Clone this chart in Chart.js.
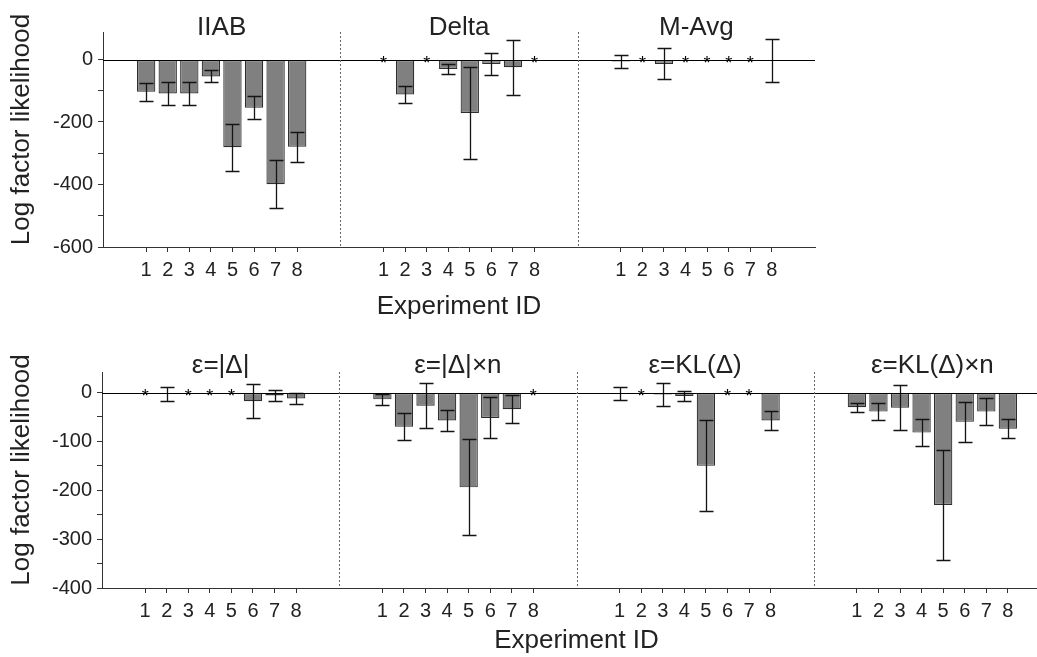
<!DOCTYPE html>
<html>
<head>
<meta charset="utf-8">
<script src="https://cdn.jsdelivr.net/npm/chart.js@4"></script>
<style>
  html, body { margin: 0; padding: 0; background: #fff; overflow: hidden; width: 1037px; height: 657px; }
  #topChart { position: absolute; left: 0; top: 0; }
  #bottomChart { position: absolute; left: 0; top: 330px; }
</style>
</head>
<body>
<canvas id="topChart" width="1037" height="330"></canvas>
<canvas id="bottomChart" width="1060" height="327"></canvas>
<script>
// Experiment IDs shown under every panel
const expIds = ['1', '2', '3', '4', '5', '6', '7', '8'];

// top row: mean log factor likelihood and error, null = no value (drawn as *)
const topTitles = ['IIAB', 'Delta', 'M-Avg'];
const iiabMean = [-103, -109, -109, -54, -281, -154, -399, -279];
const iiabErr = [29, 36, 38, 19, 76, 38, 76, 48];
const deltaMean = [null, -112, null, -30, -171, -14, -25, null];
const deltaErr = [0, 26, 0, 16, 147, 36, 87, 0];
const mavgMean = [-6, null, -14, null, null, null, null, -3];
const mavgErr = [21, 0, 50, 0, 0, 0, 0, 68];
const topYTicks = [-600, -500, -400, -300, -200, -100, 0];
const topYLabels = ['-600', '', '-400', '', '-200', '', '0'];

// bottom row
const bottomTitles = ['ε=|Δ|', 'ε=|Δ|×n', 'ε=KL(Δ)', 'ε=KL(Δ)×n'];
const absMean = [null, -3, null, null, null, -18, -6, -12];
const absErr = [0, 14, 0, 0, 0, 35, 12, 11];
const absNMean = [-14, -70, -27, -57, -194, -52, -34, null];
const absNErr = [11, 28, 46, 22, 98, 42, 28, 0];
const klMean = [-2, null, -4, -7, -150, null, null, -57];
const klErr = [14, 0, 23, 10, 93, 0, 0, 20];
const klNMean = [-30, -39, -31, -82, -230, -60, -39, -74];
const klNErr = [9, 18, 46, 28, 113, 41, 28, 19];
const bottomYTicks = [-400, -350, -300, -250, -200, -150, -100, -50, 0];
const bottomYLabels = ['-400', '', '-300', '', '-200', '', '-100', '', '0'];

const FONT = '"Liberation Sans", Arial, sans-serif';
const TEXT = '#222';
const AXIS = '#333';
const PANEL_SPAN = 11;  // x units per panel
const FIRST_POS = 2;    // x of the first experiment inside a panel

// flatten panels onto one linear x axis
function buildRow(means, errs) {
  const points = [], errors = [], ticks = [];
  means.forEach((m, p) => m.forEach((v, i) => {
    const x = p * PANEL_SPAN + FIRST_POS + i;
    points.push({ x: x, y: v });
    errors.push(errs[p][i]);
    ticks.push(x);
  }));
  return { points, errors, ticks };
}

const panelPlugin = {
  id: 'panels',
  afterDatasetsDraw(chart, args, o) {
    const { ctx, chartArea: a, scales: { x, y } } = chart;
    const ds = chart.data.datasets[0];
    ctx.save();

    // error bars
    ctx.strokeStyle = '#141414';
    ctx.lineWidth = 1.3;
    ds.data.forEach((pt, j) => {
      if (pt.y === null) return;
      const e = ds.errors[j];
      const px = Math.round(x.getPixelForValue(pt.x)) + 0.5;
      const y1 = Math.round(y.getPixelForValue(pt.y + e)) + 0.5;
      const y2 = Math.round(y.getPixelForValue(pt.y - e)) + 0.5;
      ctx.beginPath();
      ctx.moveTo(px, y1); ctx.lineTo(px, y2);
      ctx.moveTo(px - 7, y1); ctx.lineTo(px + 7, y1);
      ctx.moveTo(px - 7, y2); ctx.lineTo(px + 7, y2);
      ctx.stroke();
    });

    // zero line
    const y0 = Math.round(y.getPixelForValue(0)) + 0.5;
    ctx.strokeStyle = '#000';
    ctx.lineWidth = 1;
    ctx.beginPath(); ctx.moveTo(a.left, y0); ctx.lineTo(a.right, y0); ctx.stroke();

    // asterisks for missing values
    ctx.fillStyle = '#000';
    ctx.font = '18px ' + FONT;
    ctx.textAlign = 'center';
    ctx.textBaseline = 'alphabetic';
    const m = ctx.measureText('*');
    const shift = (m.actualBoundingBoxAscent - m.actualBoundingBoxDescent) / 2;
    ds.data.forEach(pt => {
      if (pt.y !== null) return;
      ctx.fillText('*', x.getPixelForValue(pt.x), y0 - 1 + shift);
    });

    // dotted panel dividers
    ctx.strokeStyle = '#666';
    ctx.setLineDash([2, 2]);
    for (let p = 1; p < o.titles.length; p++) {
      const px = Math.round(x.getPixelForValue(p * PANEL_SPAN)) + 0.5;
      ctx.beginPath(); ctx.moveTo(px, a.top); ctx.lineTo(px, a.bottom); ctx.stroke();
    }
    ctx.setLineDash([]);

    // panel titles
    ctx.fillStyle = TEXT;
    ctx.font = '26px ' + FONT;
    o.titles.forEach((t, p) => {
      const cx = x.getPixelForValue(p * PANEL_SPAN + PANEL_SPAN / 2);
      ctx.fillText(t, cx, a.top + o.titleDy);
    });

    // axis titles
    ctx.fillText('Experiment ID', (x.left + x.right) / 2, a.bottom + o.xTitleDy);
    ctx.save();
    ctx.translate(o.yTitleX, (a.top + a.bottom) / 2 - 10);
    ctx.rotate(-Math.PI / 2);
    ctx.textBaseline = 'middle';
    ctx.fillText('Log factor likelihood', 0, 0);
    ctx.restore();

    ctx.restore();
  }
};

function makeChart(id, row, cfg) {
  return new Chart(document.getElementById(id), {
    type: 'bar',
    data: {
      datasets: [{
        data: row.points,
        errors: row.errors,
        backgroundColor: '#808080',
        borderColor: '#2e2e2e',
        borderWidth: 1.2,
        borderSkipped: false,
        barPercentage: 0.85,
        categoryPercentage: 1
      }]
    },
    options: {
      responsive: false,
      animation: false,
      devicePixelRatio: 1,
      layout: { padding: { top: cfg.padTop, right: cfg.padRight, left: 0, bottom: 0 } },
      plugins: {
        legend: { display: false },
        tooltip: { enabled: false },
        panels: { titles: cfg.titles, titleDy: cfg.titleDy, xTitleDy: cfg.xTitleDy, yTitleX: 22 }
      },
      scales: {
        x: {
          type: 'linear',
          min: 0,
          max: cfg.titles.length * PANEL_SPAN,
          offset: false,
          grid: { offset: false, drawOnChartArea: false, drawTicks: true, tickLength: 5, color: AXIS },
          border: { color: AXIS, width: 1 },
          afterBuildTicks: ax => { ax.ticks = row.ticks.map(v => ({ value: v })); },
          afterFit: ax => { ax.height = cfg.xHeight; },
          ticks: {
            autoSkip: false, maxRotation: 0, padding: 6, color: TEXT,
            font: { family: FONT, size: 20 },
            callback: (v, i) => expIds[i % expIds.length]
          }
        },
        y: {
          min: cfg.yTicks[0],
          max: cfg.yMax,
          grid: { drawOnChartArea: false, drawTicks: true, tickLength: 5, color: AXIS },
          border: { color: AXIS, width: 1 },
          afterBuildTicks: ax => { ax.ticks = cfg.yTicks.map(v => ({ value: v })); },
          afterFit: ax => { ax.width = cfg.yWidth; },
          ticks: {
            padding: 5, color: TEXT,
            font: { family: FONT, size: 20 },
            callback: (v, i) => cfg.yLabels[i]
          }
        }
      }
    },
    plugins: [panelPlugin]
  });
}

makeChart('topChart',
  buildRow([iiabMean, deltaMean, mavgMean], [iiabErr, deltaErr, mavgErr]),
  { titles: topTitles, yTicks: topYTicks, yLabels: topYLabels, yMax: 88,
    padTop: 32, padRight: 222, yWidth: 103, xHeight: 83, titleDy: 2.5, xTitleDy: 67 });

makeChart('bottomChart',
  buildRow([absMean, absNMean, klMean, klNMean], [absErr, absNErr, klErr, klNErr]),
  { titles: bottomTitles, yTicks: bottomYTicks, yLabels: bottomYLabels, yMax: 42,
    padTop: 42, padRight: 9, yWidth: 102, xHeight: 69, titleDy: 1, xTitleDy: 60 });
</script>
</body>
</html>
